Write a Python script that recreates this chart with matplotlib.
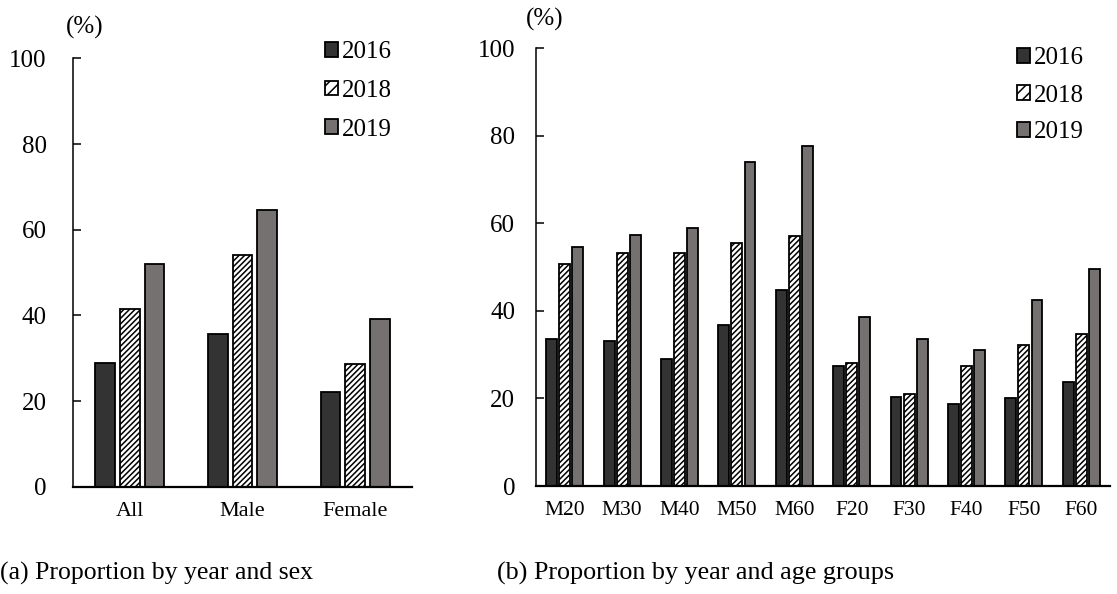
import numpy as np
import matplotlib
matplotlib.use("Agg")
import matplotlib.pyplot as plt
from matplotlib.patches import Patch

# Dados (%)
anos = ["2016", "2018", "2019"]

sexo = ["All", "Male", "Female"]
sexo_2016 = [28.8, 35.6, 22.1]
sexo_2018 = [41.4, 54.1, 28.6]
sexo_2019 = [51.9, 64.7, 39.1]

idade = ["M20", "M30", "M40", "M50", "M60", "F20", "F30", "F40", "F50", "F60"]
idade_2016 = [33.5, 33.2, 29.0, 36.8, 44.8, 27.4, 20.4, 18.7, 20.0, 23.8]
idade_2018 = [50.7, 53.2, 53.2, 55.6, 57.2, 28.2, 21.0, 27.4, 32.2, 34.7]
idade_2019 = [54.7, 57.3, 58.9, 74.1, 77.7, 38.7, 33.5, 31.1, 42.5, 49.6]

plt.rcParams["font.family"] = ["Liberation Serif", "DejaVu Serif"]
plt.rcParams["hatch.linewidth"] = 1.1

cor_2016 = "#333333"
cor_2019 = "#767171"

fig = plt.figure(figsize=(11.17, 5.94), dpi=100)
ax1 = fig.add_axes([0.0654, 0.1806, 0.3034, 0.7212])
ax2 = fig.add_axes([0.4799, 0.1818, 0.5138, 0.7369])


def desenha(ax, categorias, v16, v18, v19, largura, passo, tam_x, pad_y):
    x = np.arange(len(categorias))
    ax.bar(x - passo, v16, largura, color=cor_2016, edgecolor="black", linewidth=1.3)
    ax.bar(x, v18, largura, color="white", edgecolor="black", linewidth=1.3, hatch="//////")
    ax.bar(x + passo, v19, largura, color=cor_2019, edgecolor="black", linewidth=1.3)
    ax.set_xlim(-0.5, len(categorias) - 0.5)
    ax.set_ylim(0, 100)
    ax.set_yticks([0, 20, 40, 60, 80, 100])
    ax.set_xticks(x)
    ax.set_xticklabels(categorias, fontsize=tam_x)
    ax.tick_params(axis="y", direction="in", length=6, width=1.1, labelsize=18, pad=pad_y)
    ax.tick_params(axis="x", length=0, pad=11)
    for lado in ["top", "right"]:
        ax.spines[lado].set_visible(False)
    ax.spines["left"].set_linewidth(1.1)
    ax.spines["bottom"].set_linewidth(1.6)


desenha(ax1, sexo, sexo_2016, sexo_2018, sexo_2019, 0.177, 0.221, 16, 19)
desenha(ax2, idade, idade_2016, idade_2018, idade_2019, 0.19, 0.228, 15.5, 15)

# Legendas
handles = [
    Patch(facecolor=cor_2016, edgecolor="black", linewidth=1.3),
    Patch(facecolor="white", edgecolor="black", linewidth=1.3, hatch="///"),
    Patch(facecolor=cor_2019, edgecolor="black", linewidth=1.3),
]
fig.legend(handles, anos, loc="upper left", bbox_to_anchor=(312 / 1117, 1 - 29 / 594),
           frameon=False, fontsize=18, handlelength=0.52, handleheight=0.52,
           handletextpad=0.18, labelspacing=0.66, borderpad=0)
fig.legend(handles, anos, loc="upper left", bbox_to_anchor=(1004 / 1117, 1 - 35 / 594),
           frameon=False, fontsize=18, handlelength=0.52, handleheight=0.52,
           handletextpad=0.18, labelspacing=0.60, borderpad=0)

# Unidade (%)
fig.text(85 / 1117, 1 - 27 / 594, "(%)", fontsize=18, ha="center", va="center")
fig.text(545 / 1117, 1 - 19 / 594, "(%)", fontsize=18, ha="center", va="center")

# Legendas dos painéis
fig.text(0, 1 - 573 / 594, "(a) Proportion by year and sex", fontsize=18.5, ha="left", va="center")
fig.text(497 / 1117, 1 - 573 / 594, "(b) Proportion by year and age groups", fontsize=18.8,
         ha="left", va="center")

fig.savefig("out.png", dpi=100)
